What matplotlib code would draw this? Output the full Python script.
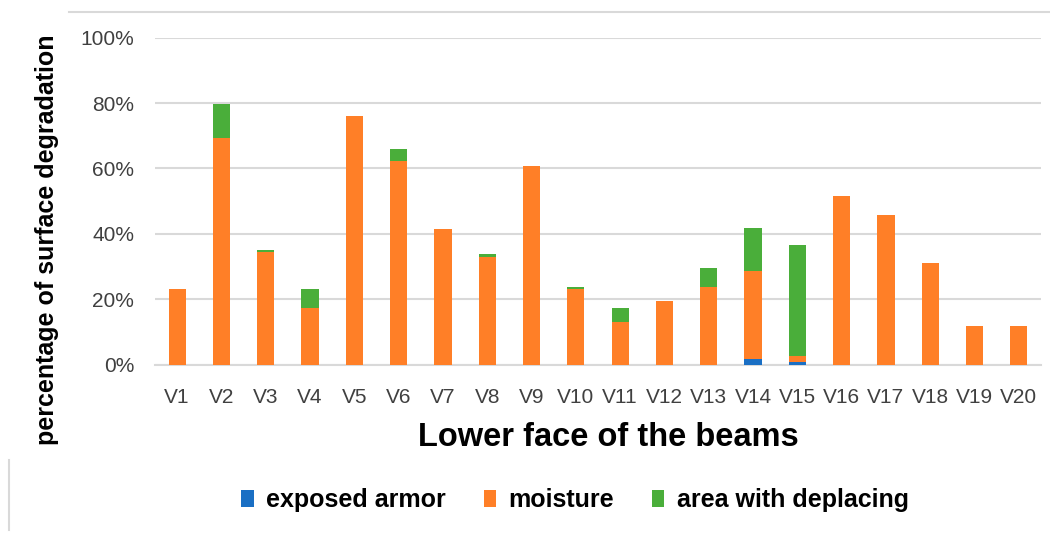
import numpy as np
import matplotlib

matplotlib.use("Agg")
from matplotlib import pyplot as plt
from matplotlib.lines import Line2D

plt.rcParams['font.family'] = ['Liberation Sans', 'DejaVu Sans']

# ----------------
# Data (fractions of the surface)
# ----------------
beams = ['V%d' % i for i in range(1, 21)]
exposed_armor = [0, 0, 0, 0, 0, 0, 0, 0, 0, 0,
                 0, 0, 0, 0.017, 0.008, 0, 0, 0, 0, 0]
moisture = [0.231, 0.692, 0.344, 0.172, 0.761, 0.622, 0.414, 0.328, 0.607, 0.231,
            0.130, 0.195, 0.237, 0.269, 0.020, 0.516, 0.457, 0.312, 0.119, 0.119]
deplacing = [0, 0.106, 0.007, 0.059, 0, 0.038, 0, 0.011, 0, 0.007,
             0.043, 0, 0.059, 0.133, 0.337, 0, 0, 0, 0, 0]

c_blue = '#1a6fc4'
c_orange = '#ff7f27'
c_green = '#4aae3a'
grid_col = '#d9d9d9'

# ----------------
# Plot
# ----------------
fig = plt.figure(figsize=(10.5, 5.36), dpi=100)
ax = fig.add_axes([155 / 1050, 1 - 364.7 / 536, (1041 - 155) / 1050, (364.7 - 37.7) / 536])

x = np.arange(len(beams))
w = 0.39
armor = np.array(exposed_armor)
moist = np.array(moisture)
depl = np.array(deplacing)
ax.bar(x, armor, w, color=c_blue, label='exposed armor', zorder=3)
ax.bar(x, moist, w, bottom=armor, color=c_orange, label='moisture', zorder=3)
ax.bar(x, depl, w, bottom=armor + moist, color=c_green, label='area with deplacing', zorder=3)

ax.set_xlim(-0.5, len(beams) - 0.5)
ax.set_ylim(0, 1)
ax.set_yticks(np.arange(0, 1.01, 0.2))
ax.set_yticklabels(['%d%%' % round(v * 100) for v in np.arange(0, 1.01, 0.2)])
ax.set_xticks(x)
ax.set_xticklabels(beams)
ax.grid(axis='y', color=grid_col, linewidth=1.5, zorder=0)
ax.set_axisbelow(True)
for s in ['top', 'right', 'left']:
    ax.spines[s].set_visible(False)
ax.spines['bottom'].set_color(grid_col)
ax.spines['bottom'].set_linewidth(1.5)
ax.tick_params(axis='both', length=0, labelsize=15, labelcolor='#404040')
ax.tick_params(axis='x', pad=17)
ax.tick_params(axis='y', pad=15)

fig.text(47 / 1050, 1 - 240 / 536, 'percentage of surface degradation', fontsize=18,
         fontweight='bold', rotation=90, ha='center', va='center')
fig.text(608 / 1050, 1 - 438 / 536, 'Lower face of the beams', fontsize=23.5,
         fontweight='bold', ha='center', va='center')

fig.legend(loc='center', bbox_to_anchor=(575 / 1050, 1 - 500 / 536), ncol=3,
           frameon=False, prop={'size': 18, 'weight': 'bold'},
           handlelength=0.5, handleheight=0.7, handletextpad=0.5, columnspacing=1.5)

# chart border fragments
fig.add_artist(Line2D([69 / 1050, 1], [1 - 12 / 536, 1 - 12 / 536], color=grid_col, linewidth=1.5))
fig.add_artist(Line2D([9 / 1050, 9 / 1050], [1 - 460 / 536, 1 - 530 / 536], color=grid_col, linewidth=1.5))

fig.savefig('out.png', dpi=100, facecolor='white')
